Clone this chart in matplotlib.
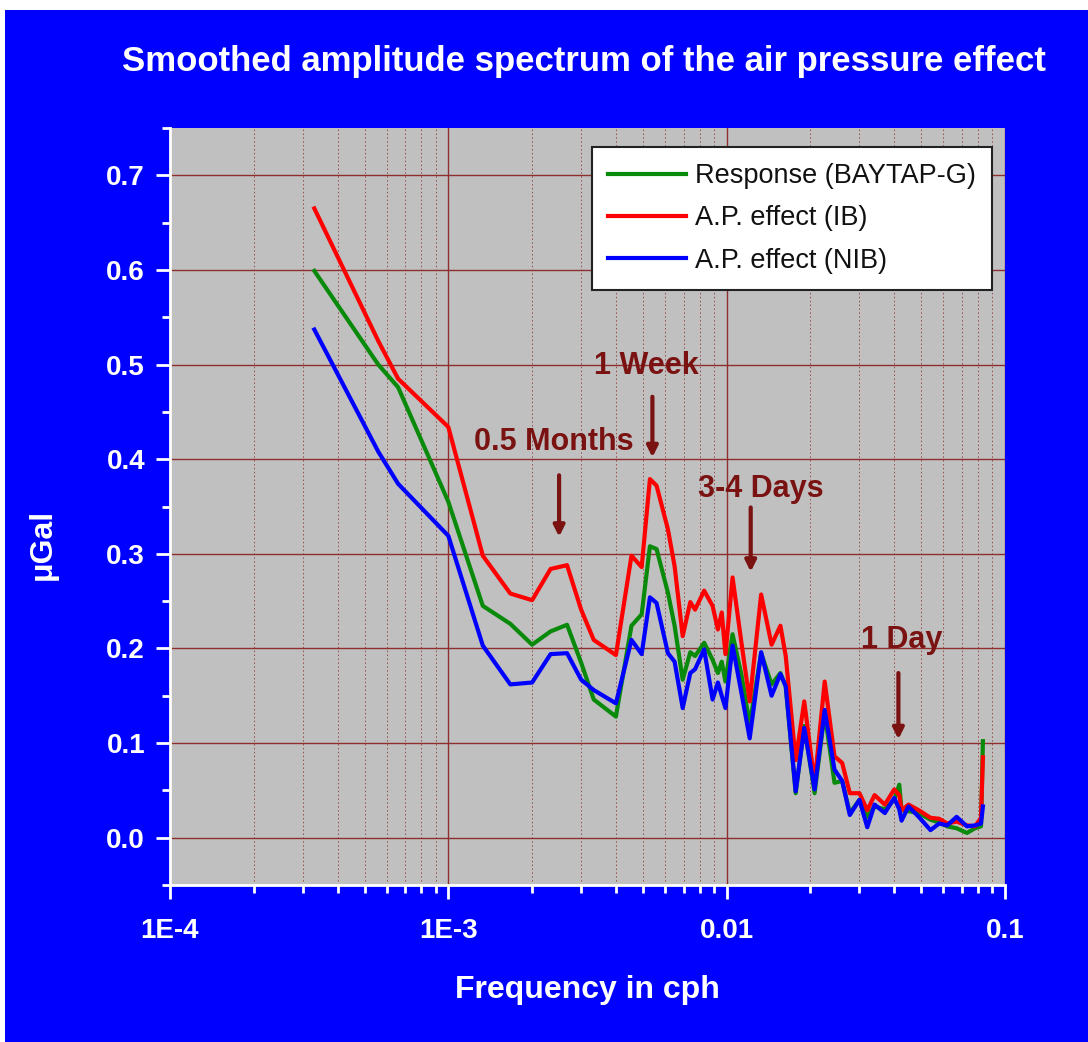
import numpy as np
import matplotlib.pyplot as plt
from matplotlib.patches import Rectangle
from matplotlib.ticker import LogLocator, FixedLocator, MultipleLocator, NullFormatter

plt.rcParams['font.family'] = ['Liberation Sans', 'DejaVu Sans']

# frequencies in cph
freq = [3.3e-4, 5.6e-4, 6.6e-4, 1.0e-3, 1.33e-3, 1.67e-3, 2.0e-3, 2.33e-3, 2.67e-3,
        3.0e-3, 3.33e-3, 4.0e-3, 4.55e-3, 4.95e-3, 5.3e-3, 5.6e-3, 6.15e-3, 6.5e-3,
        6.95e-3, 7.4e-3, 7.7e-3, 8.3e-3, 8.9e-3, 9.3e-3, 9.6e-3, 9.9e-3, 1.05e-2,
        1.13e-2, 1.21e-2, 1.33e-2, 1.45e-2, 1.56e-2, 1.63e-2, 1.77e-2, 1.9e-2, 2.07e-2,
        2.25e-2, 2.44e-2, 2.6e-2, 2.77e-2, 3.0e-2, 3.2e-2, 3.4e-2, 3.7e-2, 4.0e-2,
        4.17e-2, 4.25e-2, 4.5e-2, 4.9e-2, 5.4e-2, 5.8e-2, 6.2e-2, 6.7e-2, 7.3e-2,
        7.8e-2, 8.2e-2, 8.33e-2]

response = [0.599, 0.500, 0.476, 0.355, 0.245, 0.226, 0.204, 0.218, 0.225,
            0.185, 0.146, 0.128, 0.224, 0.236, 0.308, 0.305, 0.259, 0.224,
            0.167, 0.196, 0.192, 0.206, 0.188, 0.174, 0.186, 0.165, 0.215,
            0.172, 0.120, 0.195, 0.162, 0.174, 0.160, 0.047, 0.118, 0.047,
            0.132, 0.058, 0.060, 0.026, 0.040, 0.022, 0.033, 0.030, 0.040,
            0.056, 0.029, 0.028, 0.026, 0.019, 0.016, 0.012, 0.010, 0.005,
            0.010, 0.012, 0.102]

ap_ib = [0.665, 0.525, 0.485, 0.434, 0.298, 0.258, 0.251, 0.284, 0.288,
         0.241, 0.209, 0.193, 0.298, 0.286, 0.379, 0.372, 0.326, 0.287,
         0.213, 0.249, 0.241, 0.261, 0.245, 0.220, 0.238, 0.194, 0.275,
         0.206, 0.144, 0.257, 0.204, 0.224, 0.192, 0.082, 0.144, 0.058,
         0.165, 0.086, 0.079, 0.047, 0.047, 0.029, 0.045, 0.035, 0.051,
         0.045, 0.029, 0.035, 0.029, 0.021, 0.020, 0.015, 0.017, 0.013,
         0.012, 0.021, 0.085]

ap_nib = [0.537, 0.408, 0.374, 0.319, 0.203, 0.162, 0.164, 0.194, 0.195,
          0.167, 0.156, 0.142, 0.209, 0.194, 0.254, 0.248, 0.195, 0.186,
          0.137, 0.174, 0.178, 0.199, 0.146, 0.164, 0.150, 0.137, 0.203,
          0.153, 0.105, 0.196, 0.150, 0.173, 0.160, 0.049, 0.116, 0.051,
          0.135, 0.072, 0.060, 0.024, 0.040, 0.011, 0.035, 0.026, 0.042,
          0.030, 0.018, 0.033, 0.022, 0.008, 0.015, 0.013, 0.022, 0.012,
          0.013, 0.015, 0.033]

# period annotations: label, text position, arrow start, arrow end
notes = ['0.5 Months', '1 Week', '3-4 Days', '1 Day']
note_text_xy = [(2.39e-3, 0.418), (5.15e-3, 0.499), (1.33e-2, 0.368), (4.24e-2, 0.209)]
note_arrow_from = [(2.5e-3, 0.383), (5.41e-3, 0.466), (1.22e-2, 0.349), (4.14e-2, 0.174)]
note_arrow_to = [(2.5e-3, 0.318), (5.41e-3, 0.402), (1.22e-2, 0.281), (4.14e-2, 0.104)]

xtick_vals = [1e-4, 1e-3, 1e-2, 1e-1]
xtick_labels = ['1E-4', '1E-3', '0.01', '0.1']

blue_bg = '#0000ff'
dark_red = '#7a1212'
grid_red = '#8e2e2e'

fig = plt.figure(figsize=(10.88, 10.42), dpi=100, facecolor='white')
fig.patches.append(Rectangle((5 / 1088, 0), 1, 1 - 10 / 1042, transform=fig.transFigure,
                             facecolor=blue_bg, edgecolor='none', zorder=-10))

ax = fig.add_axes([170 / 1088, 1 - 885 / 1042, 835 / 1088, 757 / 1042])
ax.set_facecolor('#c0c0c0')
ax.set_xscale('log')
ax.set_xlim(1e-4, 0.1)
ax.set_ylim(-0.05, 0.75)

# grid
ax.xaxis.set_major_locator(FixedLocator(xtick_vals))
ax.xaxis.set_minor_locator(LogLocator(base=10, subs=np.arange(2, 10)))
ax.xaxis.set_minor_formatter(NullFormatter())
ax.set_xticks(xtick_vals)
ax.set_xticklabels(xtick_labels)
ax.yaxis.set_major_locator(MultipleLocator(0.1))
ax.yaxis.set_minor_locator(MultipleLocator(0.05))
ax.yaxis.set_major_formatter(plt.FuncFormatter(lambda v, p: f'{v:.1f}'))
ax.grid(which='major', color=grid_red, lw=1.0, ls='-')
ax.grid(which='minor', axis='x', color=grid_red, lw=0.7, ls=(0, (1.5, 2.5)), alpha=0.8)
ax.set_axisbelow(True)

for s in ['top', 'right']:
    ax.spines[s].set_visible(False)
for s in ['left', 'bottom']:
    ax.spines[s].set_color('white')
    ax.spines[s].set_linewidth(2)

ax.tick_params(which='both', direction='out', colors='white', width=2)
ax.tick_params(which='major', length=10, labelsize=20, pad=8)
ax.tick_params(which='minor', length=6)
for lab in ax.get_xticklabels() + ax.get_yticklabels():
    lab.set_fontweight('bold')
ax.tick_params(axis='x', pad=14)

ax.plot(freq, response, color='#0a8a0a', lw=3, label='Response (BAYTAP-G)')
ax.plot(freq, ap_ib, color='#ff0000', lw=3, label='A.P. effect (IB)')
ax.plot(freq, ap_nib, color='#0000ff', lw=3, label='A.P. effect (NIB)')

for txt, txy, a0, a1 in zip(notes, note_text_xy, note_arrow_from, note_arrow_to):
    ax.text(txy[0], txy[1], txt, color=dark_red, fontsize=22, fontweight='bold',
            ha='center', va='center')
    ax.annotate('', xy=a1, xytext=a0,
                arrowprops=dict(arrowstyle='-|>', color=dark_red, lw=3, mutation_scale=16,
                                shrinkA=0, shrinkB=0))

leg = ax.legend(loc='upper right', bbox_to_anchor=(0.984, 0.975), borderaxespad=0,
                fontsize=19.5, frameon=True, fancybox=False, handlelength=2.9,
                handletextpad=0.3, labelspacing=0.6, borderpad=0.6)
leg.get_frame().set_edgecolor('#222222')
leg.get_frame().set_linewidth(1.5)
leg.get_frame().set_facecolor('white')
leg.get_frame().set_alpha(1)
for t in leg.get_texts():
    t.set_color('#111111')

ax.set_xlabel('Frequency in cph', color='white', fontsize=23, fontweight='bold', labelpad=22)
ax.set_ylabel('μGal', color='white', fontsize=23, fontweight='bold')
ax.yaxis.set_label_coords(-0.135, 0.45)

fig.text(0.537, 1 - 62 / 1042, 'Smoothed amplitude spectrum of the air pressure effect',
         color='white', fontsize=25, fontweight='bold', ha='center', va='center')

fig.savefig('out.png', dpi=100, facecolor=fig.get_facecolor())
